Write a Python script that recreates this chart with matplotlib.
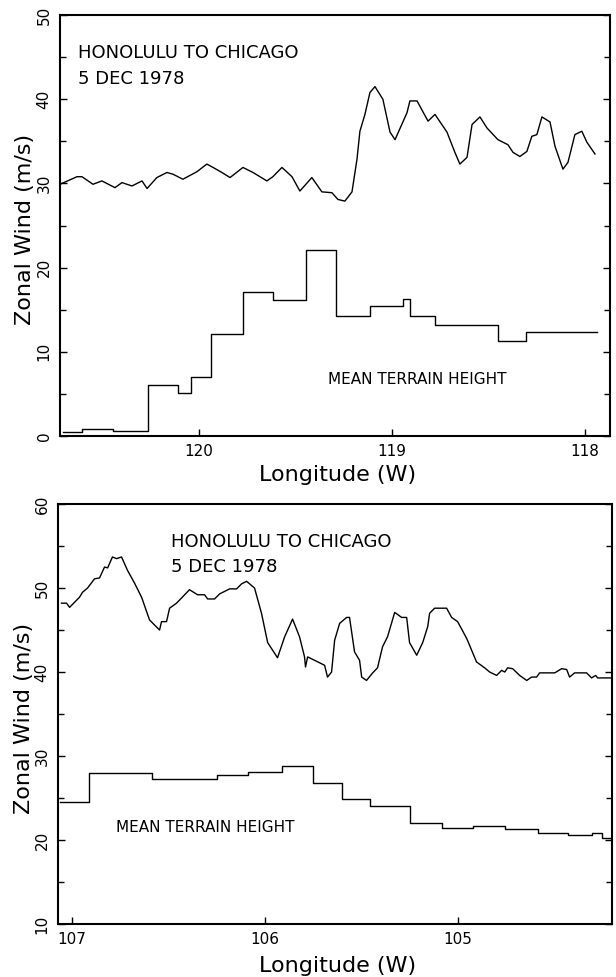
import matplotlib
matplotlib.use("Agg")
import matplotlib.pyplot as plt
from matplotlib.ticker import MultipleLocator

plt.rcParams['font.family'] = ['DejaVu Sans']

# ---------------- Top panel data (longitude W, m/s) ----------------
top_wind_lon = [120.72, 120.632, 120.606, 120.549, 120.503, 120.435, 120.399, 120.347,
                120.295, 120.269, 120.218, 120.166, 120.135, 120.083, 120.010, 119.959,
                119.927, 119.881, 119.839, 119.772, 119.720, 119.648, 119.617, 119.570,
                119.518, 119.477, 119.415, 119.363, 119.311, 119.280, 119.244, 119.207,
                119.181, 119.166, 119.140, 119.114, 119.088, 119.047, 119.010, 118.984,
                118.922, 118.907, 118.870, 118.813, 118.777, 118.715, 118.674, 118.648,
                118.611, 118.585, 118.544, 118.508, 118.451, 118.399, 118.373, 118.337,
                118.301, 118.275, 118.249, 118.223, 118.181, 118.155, 118.114, 118.088,
                118.052, 118.016, 117.990, 117.948]
top_wind_val = [29.9, 30.8, 30.8, 29.9, 30.3, 29.5, 30.1, 29.7,
                30.3, 29.4, 30.7, 31.3, 31.1, 30.5, 31.4, 32.3,
                31.9, 31.3, 30.7, 31.9, 31.3, 30.3, 30.8, 31.9,
                30.8, 29.1, 30.7, 29.0, 28.9, 28.1, 27.9, 29.0,
                32.9, 36.2, 38.2, 40.8, 41.5, 40.0, 36.1, 35.2,
                38.4, 39.8, 39.8, 37.4, 38.2, 36.1, 33.7, 32.3,
                33.1, 37.0, 37.9, 36.6, 35.2, 34.6, 33.7, 33.2,
                33.8, 35.6, 35.8, 37.9, 37.3, 34.4, 31.7, 32.5,
                35.8, 36.2, 34.9, 33.5]

top_terr_lon = [120.705, 120.606, 120.446, 120.264, 120.109, 120.041, 119.938, 119.772,
                119.617, 119.446, 119.290, 119.114, 118.943, 118.907, 118.777, 118.451,
                118.306, 117.938]
top_terr_val = [0.5, 0.8, 0.6, 6.1, 5.1, 7.0, 12.1, 17.1,
                16.2, 22.1, 14.2, 15.4, 16.3, 14.3, 13.2, 11.3,
                12.3, 12.3]

# ---------------- Bottom panel data ----------------
bot_wind_lon = [107.052, 107.026, 107.010, 106.959, 106.943, 106.917, 106.881, 106.855,
                106.829, 106.813, 106.788, 106.767, 106.741, 106.710, 106.674, 106.637,
                106.596, 106.544, 106.534, 106.508, 106.492, 106.456, 106.389, 106.347,
                106.311, 106.295, 106.259, 106.233, 106.181, 106.145, 106.119, 106.093,
                106.052, 106.016, 105.984, 105.933, 105.896, 105.855, 105.819, 105.793,
                105.788, 105.777, 105.741, 105.715, 105.689, 105.674, 105.653, 105.637,
                105.611, 105.575, 105.560, 105.534, 105.508, 105.497, 105.472, 105.440,
                105.415, 105.389, 105.363, 105.326, 105.290, 105.264, 105.249, 105.212,
                105.181, 105.155, 105.145, 105.119, 105.057, 105.031, 105.000, 104.953,
                104.902, 104.860, 104.834, 104.798, 104.772, 104.756, 104.741, 104.715,
                104.679, 104.642, 104.617, 104.591, 104.575, 104.497, 104.461, 104.435,
                104.420, 104.394, 104.332, 104.306, 104.285, 104.275, 104.187]
bot_wind_val = [48.2, 48.2, 47.7, 48.9, 49.5, 50.0, 51.1, 51.2,
                52.5, 52.4, 53.7, 53.5, 53.7, 52.1, 50.6, 48.9,
                46.2, 45.0, 46.0, 46.0, 47.6, 48.2, 49.8, 49.2,
                49.2, 48.7, 48.7, 49.3, 49.9, 49.9, 50.5, 50.8,
                50.0, 47.0, 43.5, 41.7, 44.2, 46.3, 44.2, 41.8,
                40.6, 41.8, 41.4, 41.1, 40.8, 39.4, 40.0, 43.8,
                45.8, 46.5, 46.5, 42.4, 41.4, 39.4, 39.0, 39.9,
                40.5, 43.0, 44.2, 47.1, 46.5, 46.5, 43.5, 42.0,
                43.5, 45.4, 47.0, 47.6, 47.6, 46.5, 46.0, 44.0,
                41.2, 40.5, 40.0, 39.6, 40.2, 40.0, 40.5, 40.4,
                39.6, 39.0, 39.4, 39.4, 39.9, 39.9, 40.4, 40.3,
                39.4, 39.9, 39.9, 39.3, 39.6, 39.3, 39.3]

bot_terr_lon = [107.062, 106.907, 106.585, 106.244, 106.088, 105.912, 105.751, 105.601,
                105.456, 105.249, 105.083, 104.922, 104.756, 104.585, 104.430, 104.306,
                104.254, 104.202]
bot_terr_val = [24.5, 28.0, 27.3, 27.7, 28.1, 28.8, 26.8, 24.9,
                24.0, 22.0, 21.4, 21.7, 21.3, 20.8, 20.6, 20.8,
                20.3, 20.3]

title_line1 = "HONOLULU TO CHICAGO"
title_line2 = "5 DEC 1978"
terrain_label = "MEAN TERRAIN HEIGHT"
xlabel = "Longitude (W)"
ylabel = "Zonal Wind (m/s)"

fig = plt.figure(figsize=(6.16, 9.77), dpi=100)
ax1 = fig.add_axes([0.0974, 0.5537, 0.8929, 0.4309])
ax2 = fig.add_axes([0.0942, 0.0542, 0.8994, 0.4299])


def style(ax, xlim, ylim, xticks, yticks, xlab_y, ylab_x):
    ax.set_xlim(*xlim)
    ax.set_ylim(*ylim)
    ax.set_xticks(xticks)
    ax.set_xticklabels([str(t) for t in xticks], fontsize=11)
    ax.set_yticks(yticks)
    ax.set_yticklabels([str(t) for t in yticks], fontsize=11, rotation=90, va='center')
    ax.yaxis.set_minor_locator(MultipleLocator(5))
    ax.tick_params(axis='y', which='both', direction='in', left=True, right=True, pad=6)
    ax.tick_params(axis='y', which='major', length=5, width=1)
    ax.tick_params(axis='y', which='minor', length=4, width=1)
    ax.tick_params(axis='x', which='major', direction='in', length=5, width=1,
                   top=False, pad=6)
    for s in ax.spines.values():
        s.set_linewidth(1.5)
    ax.set_xlabel(xlabel, fontsize=16)
    ax.xaxis.label.set_va('center')
    ax.xaxis.set_label_coords(0.504, xlab_y)
    ax.set_ylabel(ylabel, fontsize=16)
    ax.yaxis.label.set_va('center')
    ax.yaxis.set_label_coords(ylab_x, 0.49)


ax1.plot(top_wind_lon, top_wind_val, color='black', lw=1.0)
ax1.plot(top_terr_lon, top_terr_val, color='black', lw=1.0, drawstyle='steps-post')
style(ax1, (120.72, 117.87), (0, 50), [120, 119, 118], [0, 10, 20, 30, 40, 50],
      -0.093, -0.064)
ax1.text(0.033, 0.910, title_line1, transform=ax1.transAxes, fontsize=13,
         va='center', ha='left')
ax1.text(0.033, 0.848, title_line2, transform=ax1.transAxes, fontsize=13,
         va='center', ha='left')
ax1.text(0.487, 0.135, terrain_label, transform=ax1.transAxes, fontsize=11,
         va='center', ha='left')

ax2.plot(bot_wind_lon, bot_wind_val, color='black', lw=1.0)
ax2.plot(bot_terr_lon, bot_terr_val, color='black', lw=1.0, drawstyle='steps-post')
style(ax2, (107.07, 104.20), (10, 60), [107, 106, 105], [10, 20, 30, 40, 50, 60],
      -0.100, -0.061)
ax2.text(0.204, 0.910, title_line1, transform=ax2.transAxes, fontsize=13,
         va='center', ha='left')
ax2.text(0.204, 0.850, title_line2, transform=ax2.transAxes, fontsize=13,
         va='center', ha='left')
ax2.text(0.105, 0.231, terrain_label, transform=ax2.transAxes, fontsize=11,
         va='center', ha='left')

fig.savefig("out.png", dpi=100)
